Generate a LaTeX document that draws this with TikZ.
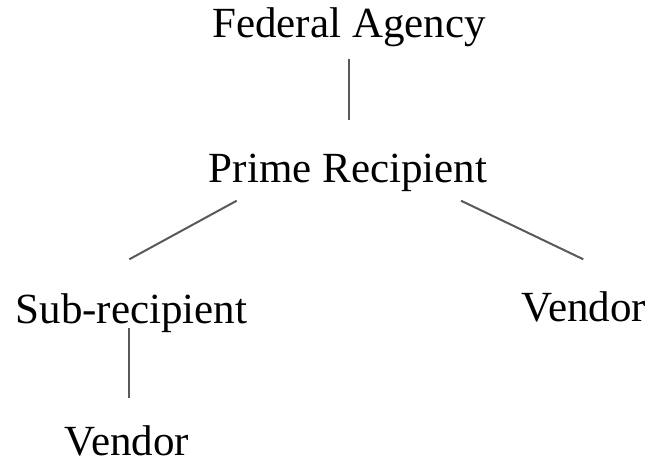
\documentclass[tikz,border=0pt]{standalone}
\usepackage{fontspec}
\setmainfont{Liberation Serif}
\usetikzlibrary{calc}
\tikzset{entity/.style={anchor=base,inner sep=0pt,font=\fontsize{43}{49}\selectfont},
  link/.style={draw=black!65,line width=2pt}}

\begin{document}
\begin{tikzpicture}[x=1pt,y=-1pt]
        \useasboundingbox (0,0) rectangle (650,466);
        %nodes
        \node[entity] (fed) at (349,37.7) {Federal Agency};
        \node[entity] (prime) at (348,182.7) {Prime Recipient};
        \node[entity] (sub) at (131.5,323.3) {Sub-recipient};
        \node[entity] (vendR) at (584,321.7) {Vendor};
        \node[entity] (vendB) at (127,455) {Vendor};
        %edge ends
        \coordinate (fedOut) at (348.7,59.3);
        \coordinate (primeIn) at (348.7,120);
        \coordinate (primeL) at (236.7,200.7);
        \coordinate (primeR) at (461,200.7);
        \coordinate (subIn) at (129.3,259.3);
        \coordinate (vendRIn) at (583.3,259.3);
        \coordinate (subOut) at (129,328);
        \coordinate (vendBIn) at (129,398);
        %edges
        \draw[link] (fedOut) -- (primeIn);
        \draw[link] (primeL) -- (subIn);
        \draw[link] (primeR) -- (vendRIn);
        \draw[link] (subOut) -- (vendBIn);
\end{tikzpicture}
\end{document}
